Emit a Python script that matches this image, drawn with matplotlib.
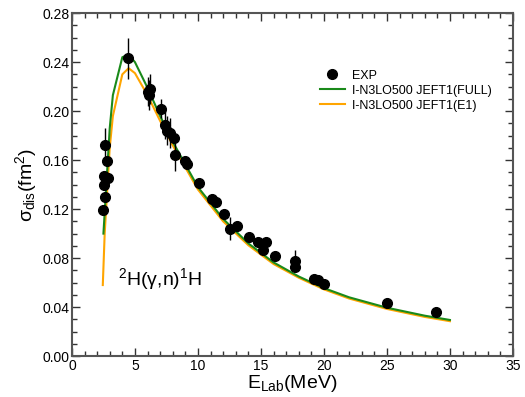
import matplotlib
matplotlib.use("Agg")
import matplotlib.pyplot as plt
from matplotlib.ticker import MultipleLocator
from matplotlib.lines import Line2D

plt.rcParams['font.family'] = ['Liberation Sans', 'DejaVu Sans']
plt.rcParams['mathtext.default'] = 'regular'

# Experimental data
exp_E = [2.43, 2.57, 2.57, 2.62, 2.62, 2.75, 2.88, 4.47, 6.06, 6.14, 6.19, 7.04, 7.38,
         7.57, 7.78, 8.10, 8.17, 8.97, 9.10, 10.1, 11.09, 11.43, 12.09, 12.54, 13.12,
         14.07, 14.79, 15.13, 15.4, 16.1, 17.7, 17.7, 19.2, 19.5, 20.0, 25.0, 28.9]
exp_sigma = [0.119, 0.140, 0.147, 0.130, 0.172, 0.159, 0.145, 0.243, 0.216, 0.213, 0.218,
             0.202, 0.189, 0.184, 0.182, 0.178, 0.164, 0.159, 0.157, 0.141, 0.128, 0.126,
             0.116, 0.104, 0.106, 0.097, 0.093, 0.087, 0.093, 0.082, 0.078, 0.073,
             0.063, 0.062, 0.059, 0.043, 0.036]
exp_err = [0.004, 0.004, 0.004, 0.004, 0.014, 0.004, 0.004, 0.017, 0.012, 0.012, 0.012,
           0.008, 0.012, 0.012, 0.012, 0.004, 0.013, 0.003, 0.003, 0.003, 0.003, 0.003,
           0.003, 0.0095, 0.003, 0.003, 0.003, 0.003, 0.003, 0.003, 0.009, 0.004,
           0.002, 0.002, 0.002, 0.002, 0.002]

# Theory: full
full_E = [2.50, 3.0, 3.25, 4.0, 4.5, 5.0, 6.0, 7.0, 8.0, 10.0, 12.0, 14.0, 16.0, 18.0,
          20.0, 22.0, 25.0, 28.0, 30.0]
full_sigma = [0.100, 0.186, 0.213, 0.244, 0.246, 0.240, 0.219, 0.196, 0.175, 0.138, 0.112,
              0.092, 0.0765, 0.065, 0.0555, 0.048, 0.0395, 0.033, 0.0295]

# Theory: E1
e1_E = [2.45, 2.6, 3.0, 3.25, 4.0, 4.5, 5.0, 6.0, 7.0, 8.0, 10.0, 12.0, 14.0, 16.0, 18.0,
        20.0, 22.0, 25.0, 28.0, 30.0]
e1_sigma = [0.058, 0.100, 0.170, 0.196, 0.230, 0.235, 0.231, 0.213, 0.192, 0.172, 0.136,
            0.110, 0.0905, 0.0752, 0.064, 0.0545, 0.047, 0.0385, 0.032, 0.0285]

labels = ['EXP', 'I-N3LO500 JEFT1(FULL)', 'I-N3LO500 JEFT1(E1)']
full_color = '#1a8a1a'
e1_color = '#ffa500'

fig = plt.figure(figsize=(5.25, 3.97), dpi=100)
ax = fig.add_axes([0.137, 0.103, 0.840, 0.864])

ax.errorbar(exp_E, exp_sigma, yerr=exp_err, fmt='o', color='black', ms=7,
            ecolor='black', elinewidth=1.0, capsize=0, zorder=3)
ax.plot(full_E, full_sigma, color=full_color, lw=1.5, zorder=2)
ax.plot(e1_E, e1_sigma, color=e1_color, lw=1.5, zorder=1)

ax.set_xlim(0, 35)
ax.set_ylim(0, 0.28)
ax.xaxis.set_major_locator(MultipleLocator(5))
ax.xaxis.set_minor_locator(MultipleLocator(1))
ax.yaxis.set_major_locator(MultipleLocator(0.04))
ax.yaxis.set_minor_locator(MultipleLocator(0.01))
ax.yaxis.set_major_formatter(matplotlib.ticker.FormatStrFormatter('%.2f'))

ax.tick_params(which='both', direction='in', top=True, right=True, labelsize=10,
               color='#333333', pad=2)
ax.tick_params(which='major', length=6, width=1)
ax.tick_params(which='minor', length=3.5, width=1)
for s in ax.spines.values():
    s.set_color('#555555')
    s.set_linewidth(1.5)

ax.set_xlabel('E$_{Lab}$(MeV)', fontsize=14, labelpad=0)
ax.set_ylabel('σ$_{dis}$(fm$^{2}$)', fontsize=14, labelpad=2)

ax.text(3.65, 0.063, '$^{2}$H(γ,n)$^{1}$H', fontsize=14, va='center', ha='left')

handles = [Line2D([], [], marker='o', ls='none', color='black', ms=7),
           Line2D([], [], color=full_color, lw=1.5),
           Line2D([], [], color=e1_color, lw=1.5)]
ax.legend(handles, labels, loc='upper left', bbox_to_anchor=(0.551, 0.85), frameon=False,
          fontsize=9, handlelength=2.0, handletextpad=0.6, labelspacing=0.25,
          borderaxespad=0)

fig.savefig('out.png', dpi=100)
